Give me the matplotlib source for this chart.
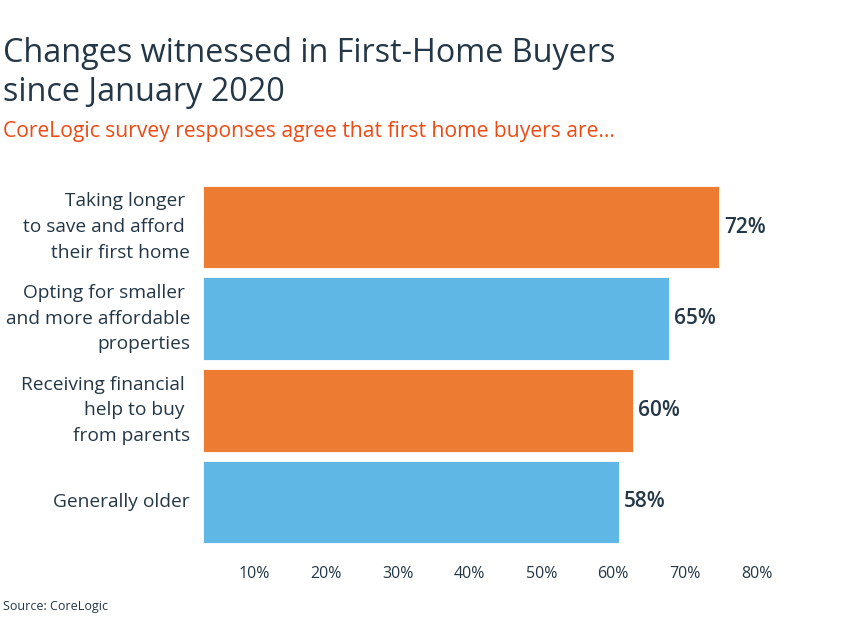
import matplotlib
matplotlib.use('Agg')
import matplotlib.pyplot as plt
import matplotlib.transforms as mtransforms

# data
categories = [
    'Taking longer \nto save and afford \ntheir first home',
    'Opting for smaller \nand more affordable\nproperties',
    'Receiving financial \nhelp to buy \nfrom parents',
    'Generally older',
]
values = [72, 65, 60, 58]
bar_colors = ['#EE7B32', '#5EB7E5', '#EE7B32', '#5EB7E5']
tick_values = [10, 20, 30, 40, 50, 60, 70, 80]

text_color = '#243746'
plt.rcParams['font.family'] = ['Open Sans', 'DejaVu Sans']

fig = plt.figure(figsize=(8.56, 6.41), dpi=100)
ax = fig.add_axes([203 / 856, 1 - 547.8 / 641, 645 / 856, 366.6 / 641])

ypos = list(range(len(values)))
ax.barh(ypos, values, height=0.9, color=bar_colors, edgecolor='white', linewidth=0.6)
ax.set_xlim(0, 645 / 7.17)
ax.set_ylim(len(values) - 0.5, -0.5)

for y, v in zip(ypos, values):
    ax.annotate(f'{v}%', (v, y), xytext=(5, 0), textcoords='offset pixels',
                ha='left', va='center', fontsize=15, fontweight='semibold', color=text_color)

for y, c in zip(ypos, categories):
    ax.annotate(c, (0, y), xytext=(-13, 0), textcoords='offset pixels',
                ha='right', va='center', multialignment='right', fontsize=13.8,
                color=text_color, linespacing=1.55)

ax.set_yticks([])
ax.set_xticks(tick_values)
ax.set_xticklabels([f'{t}%' for t in tick_values], fontsize=11.5, color=text_color)
ax.tick_params(axis='x', length=0, pad=13)
shift = mtransforms.ScaledTranslation(-20 / 100, 0, fig.dpi_scale_trans)
for lbl in ax.get_xticklabels():
    lbl.set_transform(lbl.get_transform() + shift)
for s in ax.spines.values():
    s.set_visible(False)

fig.text(3 / 856, 1 - 62 / 641, 'Changes witnessed in First-Home Buyers', fontsize=23.3,
         color=text_color, ha='left', va='baseline')
fig.text(3 / 856, 1 - 101 / 641, 'since January 2020', fontsize=23.3,
         color=text_color, ha='left', va='baseline')
fig.text(3 / 856, 1 - 137 / 641, 'CoreLogic survey responses agree that first home buyers are...',
         fontsize=15.2, color='#EE4B14', ha='left', va='baseline')
fig.text(3 / 856, 1 - 610 / 641, 'Source: CoreLogic', fontsize=9, color=text_color,
         ha='left', va='baseline')

fig.savefig('out.png', dpi=100)
